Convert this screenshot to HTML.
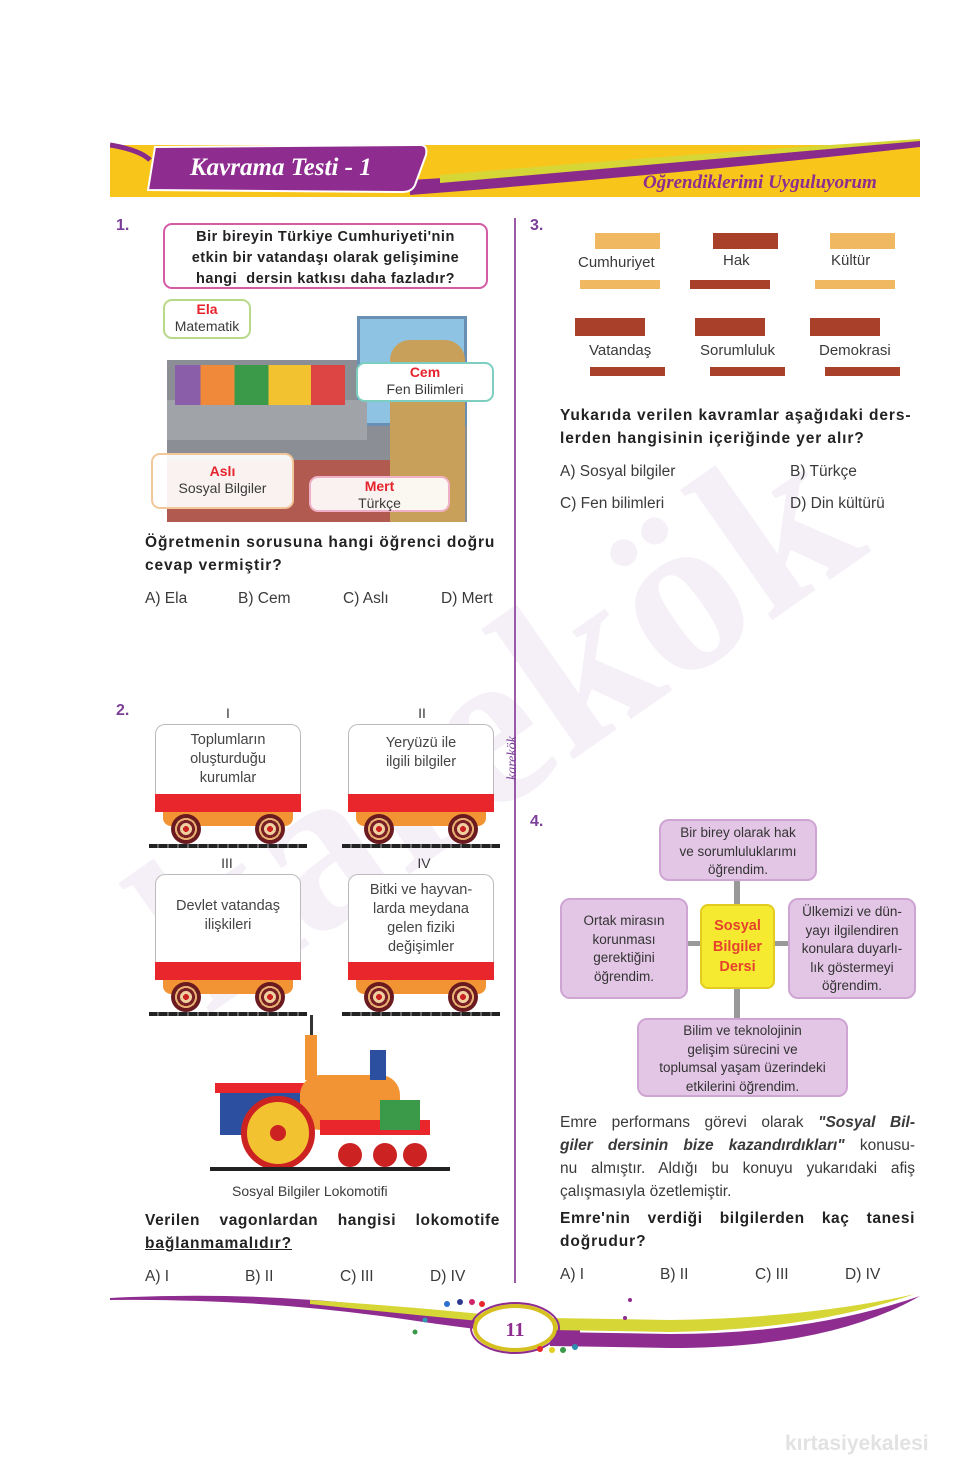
<!DOCTYPE html>
<html><head><meta charset="utf-8"><style>
*{margin:0;padding:0;box-sizing:border-box}
body{width:980px;height:1470px;background:#fff;position:relative;overflow:hidden;font-family:"Liberation Sans",sans-serif;color:#3a3a3a}
.a{position:absolute}
.t{position:absolute;font-size:15.5px;line-height:23px;white-space:nowrap}
.b{font-weight:bold;color:#222;letter-spacing:0.9px}
.c{text-align:center}
.num{position:absolute;font-weight:bold;color:#7b3f98;font-size:16px}
.bub{position:absolute;background:#fff;border-radius:9px;text-align:center;font-size:14px;line-height:17px}
.red{color:#e5232d;font-weight:bold}
.wag{position:absolute;width:146px;height:125px}
.wag .box{position:absolute;left:0;top:0;width:146px;height:72px;border:1.5px solid #bbb;border-bottom:none;border-radius:10px 10px 0 0;background:#fff;text-align:center;font-size:14.5px;line-height:19px;padding-top:6px;color:#444}
.wag .rb{position:absolute;left:0;top:70px;width:146px;height:18px;background:#e8262c}
.wag .ob{position:absolute;left:8px;top:88px;width:130px;height:14px;background:#f29433;border-radius:0 0 8px 8px}
.wag .w{position:absolute;top:90px;width:30px;height:30px;border-radius:50%;background:radial-gradient(circle,#c22 0 3px,#f0d0a0 3px 6px,#7a1f25 6px 9px,#e8b070 9px 11px,#6b1a20 11px)}
.wag .rail{position:absolute;left:-6px;top:120px;width:158px;height:4px;background:repeating-linear-gradient(90deg,#222 0 8px,#666 8px 10px)}
.pbox{position:absolute;background:#e3c6e6;border:2px solid #cfa5d3;border-radius:10px;text-align:center;font-size:13.5px;line-height:18.5px;color:#333}
</style></head><body>

<!-- watermark -->
<div class="a" style="left:95px;top:860px;font-family:'Liberation Serif',serif;font-weight:bold;font-size:230px;line-height:230px;color:#7b3f98;opacity:.07;transform:rotate(-35deg);transform-origin:left top;white-space:nowrap">karekök</div>

<!-- header -->
<svg class="a" style="left:110px;top:135px" width="810" height="70">
<path d="M0 10 L810 10 L810 62 L0 62 Z" fill="#f8c61a"/>
<path d="M300 45 Q560 30 810 5 L810 12 Q560 40 300 60 Z" fill="#8a2b8c"/>
<path d="M330 40 Q560 20 810 4 L810 6 Q560 28 330 48 Z" fill="#d6d636"/>
<path d="M0 12 Q40 20 50 40 L300 50 L300 62 L0 62 Z" fill="#f8c61a"/>
<path d="M0 10 Q30 15 40 25" stroke="#8a2b8c" stroke-width="5" fill="none"/>
<path d="M45 12 L310 10 Q318 10 316 20 L305 50 Q302 57 292 57 L38 55 Z" fill="#8e2c90" stroke="#fff" stroke-width="2"/>
<text x="80" y="40" font-family="Liberation Serif" font-style="italic" font-weight="bold" font-size="25" fill="#fff">Kavrama Testi - 1</text>
<text x="533" y="53" font-family="Liberation Serif" font-style="italic" font-weight="bold" font-size="19" fill="#8e2c90">Öğrendiklerimi Uyguluyorum</text>
</svg>

<!-- divider -->
<div class="a" style="left:514px;top:218px;width:2px;height:1065px;background:#9b5aa8"></div>
<div class="a" style="left:505px;top:780px;font-family:'Liberation Serif',serif;font-style:italic;font-size:14px;color:#7b3f98;transform:rotate(-90deg);transform-origin:left top">karekök</div>

<!-- Q1 -->
<div class="num" style="left:116px;top:217px">1.</div>
<div class="bub" style="left:163px;top:223px;width:325px;height:66px;border:2px solid #d45ca6;font-weight:bold;font-size:14.5px;line-height:21px;padding-top:2px;color:#222;letter-spacing:.5px">Bir bireyin Türkiye Cumhuriyeti'nin<br>etkin bir vatandaşı olarak gelişimine<br>hangi &nbsp;dersin katkısı daha fazladır?</div>
<div class="a" style="left:167px;top:360px;width:300px;height:162px;background:#8b8e95"></div>
<div class="a" style="left:357px;top:316px;width:110px;height:110px;background:#8fc3e3;border:3px solid #6a8fb5"></div>
<div class="a" style="left:167px;top:400px;width:200px;height:40px;background:#a0a3a8"></div>
<div class="a" style="left:175px;top:365px;width:170px;height:40px;background:linear-gradient(90deg,#8a5ea8 0 15%,#f08a3a 15% 35%,#3a9a4a 35% 55%,#f2c230 55% 80%,#d44 80%)"></div>
<div class="a" style="left:167px;top:460px;width:240px;height:62px;background:#b05a50"></div>
<div class="a" style="left:390px;top:340px;width:75px;height:182px;background:#c9a05a;border-radius:20px 20px 0 0"></div>
<div class="bub" style="left:163px;top:299px;width:88px;height:40px;border:2px solid #b9d98a"><span class="red">Ela</span><br>Matematik</div>
<div class="bub" style="left:356px;top:362px;width:138px;height:40px;border:2px solid #7ccfc0"><span class="red">Cem</span><br>Fen Bilimleri</div>
<div class="bub" style="left:151px;top:453px;width:143px;height:56px;border:2px solid #f2c79a;padding-top:8px;background:rgba(255,255,255,.92)"><span class="red">Aslı</span><br>Sosyal Bilgiler</div>
<div class="bub" style="left:309px;top:476px;width:141px;height:36px;border:2px solid #f0b0c8;background:rgba(255,255,255,.92)"><span class="red">Mert</span><br>Türkçe</div>
<div class="t b" style="left:145px;top:531px">Öğretmenin sorusuna hangi öğrenci doğru</div>
<div class="t b" style="left:145px;top:554px">cevap vermiştir?</div>
<div class="t" style="left:145px;top:587px">A) Ela</div>
<div class="t" style="left:238px;top:587px">B) Cem</div>
<div class="t" style="left:343px;top:587px">C) Aslı</div>
<div class="t" style="left:441px;top:587px">D) Mert</div>

<!-- Q2 -->
<div class="num" style="left:116px;top:702px">2.</div>
<div class="t c" style="left:218px;top:702px;width:20px;font-size:14px">I</div>
<div class="t c" style="left:412px;top:702px;width:20px;font-size:14px">II</div>
<div class="t c" style="left:217px;top:852px;width:20px;font-size:14px">III</div>
<div class="t c" style="left:412px;top:852px;width:24px;font-size:14px">IV</div>
<div class="wag" style="left:155px;top:724px"><div class="box">Toplumların<br>oluşturduğu<br>kurumlar</div><div class="rb"></div><div class="ob"></div><div class="w" style="left:16px"></div><div class="w" style="left:100px"></div><div class="rail"></div></div>
<div class="wag" style="left:348px;top:724px"><div class="box" style="padding-top:9px">Yeryüzü ile<br>ilgili bilgiler</div><div class="rb"></div><div class="ob"></div><div class="w" style="left:16px"></div><div class="w" style="left:100px"></div><div class="rail"></div></div>
<div class="wag" style="left:155px;top:874px"><div class="box" style="height:88px;padding-top:22px">Devlet vatandaş<br>ilişkileri</div><div class="rb" style="top:88px"></div><div class="ob" style="top:106px"></div><div class="w" style="left:16px;top:108px"></div><div class="w" style="left:100px;top:108px"></div><div class="rail" style="top:138px"></div></div>
<div class="wag" style="left:348px;top:874px"><div class="box" style="height:88px">Bitki ve hayvan-<br>larda meydana<br>gelen fiziki<br>değişimler</div><div class="rb" style="top:88px"></div><div class="ob" style="top:106px"></div><div class="w" style="left:16px;top:108px"></div><div class="w" style="left:100px;top:108px"></div><div class="rail" style="top:138px"></div></div>
<svg class="a" style="left:210px;top:1015px" width="245" height="165">
<rect x="10" y="75" width="80" height="45" fill="#2d4fa0"/>
<rect x="5" y="68" width="95" height="10" fill="#e8262c"/>
<rect x="90" y="60" width="100" height="55" rx="20" fill="#f29433"/>
<rect x="95" y="20" width="12" height="45" fill="#f29433"/>
<rect x="160" y="35" width="16" height="30" fill="#2d4fa0"/>
<rect x="100" y="0" width="3" height="20" fill="#333"/>
<rect x="110" y="105" width="110" height="15" fill="#e8262c"/>
<rect x="170" y="85" width="40" height="30" fill="#3a9a4a"/>
<circle cx="68" cy="118" r="34" fill="#f2c230" stroke="#c22" stroke-width="6"/>
<circle cx="68" cy="118" r="8" fill="#c22"/>
<circle cx="140" cy="140" r="12" fill="#c22"/><circle cx="175" cy="140" r="12" fill="#c22"/><circle cx="205" cy="140" r="12" fill="#c22"/>
<rect x="0" y="152" width="240" height="4" fill="#222"/>
</svg>
<div class="t" style="left:232px;top:1180px;font-size:14px">Sosyal Bilgiler Lokomotifi</div>
<div class="t b" style="left:145px;top:1209px;width:355px;text-align:justify;text-align-last:justify;white-space:normal;letter-spacing:.6px">Verilen vagonlardan hangisi lokomotife</div>
<div class="t b" style="left:145px;top:1232px;text-decoration:underline">bağlanmamalıdır?</div>
<div class="t" style="left:145px;top:1265px">A) I</div>
<div class="t" style="left:245px;top:1265px">B) II</div>
<div class="t" style="left:340px;top:1265px">C) III</div>
<div class="t" style="left:430px;top:1265px">D) IV</div>

<!-- Q3 -->
<div class="num" style="left:530px;top:217px">3.</div>
<svg class="a" style="left:565px;top:225px" width="350" height="160">
<g fill="#f0b860"><rect x="30" y="8" width="65" height="16"/><rect x="15" y="55" width="80" height="9"/><rect x="265" y="8" width="65" height="16"/><rect x="250" y="55" width="80" height="9"/></g>
<g fill="#a8402a"><rect x="148" y="8" width="65" height="16"/><rect x="125" y="55" width="80" height="9"/><rect x="10" y="93" width="70" height="18"/><rect x="25" y="142" width="75" height="9"/><rect x="130" y="93" width="70" height="18"/><rect x="145" y="142" width="75" height="9"/><rect x="245" y="93" width="70" height="18"/><rect x="260" y="142" width="75" height="9"/></g>
</svg>
<div class="t" style="left:578px;top:251px;font-size:15px">Cumhuriyet</div>
<div class="t" style="left:723px;top:249px;font-size:15px">Hak</div>
<div class="t" style="left:831px;top:249px;font-size:15px">Kültür</div>
<div class="t" style="left:589px;top:339px;font-size:15px">Vatandaş</div>
<div class="t" style="left:700px;top:339px;font-size:15px">Sorumluluk</div>
<div class="t" style="left:819px;top:339px;font-size:15px">Demokrasi</div>
<div class="t b" style="left:560px;top:404px">Yukarıda verilen kavramlar aşağıdaki ders-</div>
<div class="t b" style="left:560px;top:427px">lerden hangisinin içeriğinde yer alır?</div>
<div class="t" style="left:560px;top:460px">A) Sosyal bilgiler</div>
<div class="t" style="left:790px;top:460px">B) Türkçe</div>
<div class="t" style="left:560px;top:492px">C) Fen bilimleri</div>
<div class="t" style="left:790px;top:492px">D) Din kültürü</div>

<!-- Q4 -->
<div class="num" style="left:530px;top:813px">4.</div>
<div class="a" style="left:734px;top:880px;width:6px;height:140px;background:#999"></div>
<div class="a" style="left:685px;top:941px;width:110px;height:5px;background:#999"></div>
<div class="pbox" style="left:659px;top:819px;width:158px;height:62px;padding-top:3px">Bir birey olarak hak<br>ve sorumluluklarımı<br>öğrendim.</div>
<div class="pbox" style="left:560px;top:898px;width:128px;height:101px;padding-top:12px">Ortak mirasın<br>korunması<br>gerektiğini<br>öğrendim.</div>
<div class="pbox" style="left:788px;top:898px;width:128px;height:101px;padding-top:3px">Ülkemizi ve dün-<br>yayı ilgilendiren<br>konulara duyarlı-<br>lık göstermeyi<br>öğrendim.</div>
<div class="a c" style="left:700px;top:904px;width:75px;height:85px;background:#f6ea30;border:2px solid #e2cc20;border-radius:8px;color:#e5432d;font-weight:bold;font-size:14.5px;line-height:20.5px;padding-top:10px">Sosyal<br>Bilgiler<br>Dersi</div>
<div class="pbox" style="left:637px;top:1018px;width:211px;height:79px;padding-top:2px">Bilim ve teknolojinin<br>gelişim sürecini ve<br>toplumsal yaşam üzerindeki<br>etkilerini öğrendim.</div>
<div class="t" style="left:560px;top:1111px;width:355px;white-space:normal;text-align:justify;text-align-last:justify">Emre performans görevi olarak <b><i>"Sosyal Bil-</i></b></div>
<div class="t" style="left:560px;top:1134px;width:355px;white-space:normal;text-align:justify;text-align-last:justify"><b><i>giler dersinin bize kazandırdıkları"</i></b> konusu-</div>
<div class="t" style="left:560px;top:1157px;width:355px;white-space:normal;text-align:justify;text-align-last:justify">nu almıştır. Aldığı bu konuyu yukarıdaki afiş</div>
<div class="t" style="left:560px;top:1180px">çalışmasıyla özetlemiştir.</div>
<div class="t b" style="left:560px;top:1207px;width:355px;white-space:normal;text-align:justify;text-align-last:justify;letter-spacing:.6px">Emre'nin verdiği bilgilerden kaç tanesi</div>
<div class="t b" style="left:560px;top:1230px">doğrudur?</div>
<div class="t" style="left:560px;top:1263px">A) I</div>
<div class="t" style="left:660px;top:1263px">B) II</div>
<div class="t" style="left:755px;top:1263px">C) III</div>
<div class="t" style="left:845px;top:1263px">D) IV</div>

<!-- footer -->
<svg class="a" style="left:110px;top:1290px" width="820" height="80">
<path d="M0 8 Q150 0 300 20 Q420 40 470 40 L470 48 Q400 45 300 30 Q150 8 0 10 Z" fill="#8e2c90"/>
<path d="M200 10 Q350 20 470 35 L470 40 Q350 30 200 14 Z" fill="#d6d636"/>
<path d="M440 28 L560 30 Q700 28 805 4 Q700 40 560 42 L440 40 Z" fill="#d6d636"/>
<path d="M440 42 L560 44 Q700 44 810 6 Q720 58 560 58 L440 56 Z" fill="#8e2c90"/>
<ellipse cx="405" cy="38" rx="40" ry="22" fill="#fff" stroke="#d6c020" stroke-width="4"/>
<ellipse cx="405" cy="38" rx="44" ry="25" fill="none" stroke="#8e2c90" stroke-width="2"/>
<text x="405" y="46" text-anchor="middle" font-family="Liberation Serif" font-weight="bold" font-size="20" fill="#8e2c90">11</text>
<circle cx="337" cy="14" r="3" fill="#2d6fd0"/><circle cx="350" cy="12" r="3" fill="#2d3a90"/><circle cx="362" cy="12" r="3" fill="#d0246a"/><circle cx="372" cy="14" r="3" fill="#e8262c"/>
<circle cx="430" cy="59" r="3" fill="#e8262c"/><circle cx="442" cy="60" r="3" fill="#e2d020"/><circle cx="453" cy="60" r="3" fill="#3a9a4a"/><circle cx="465" cy="57" r="3" fill="#2d8fb0"/>
<circle cx="315" cy="30" r="2.5" fill="#2d9ab0"/><circle cx="305" cy="42" r="2.5" fill="#3a9a4a"/><circle cx="520" cy="10" r="2" fill="#8e2c90"/><circle cx="515" cy="28" r="2" fill="#8e2c90"/>
</svg>
<div class="t" style="left:785px;top:1432px;font-size:21px;font-weight:bold;color:#e2e2e2">kırtasiyekalesi</div>
</body></html>
